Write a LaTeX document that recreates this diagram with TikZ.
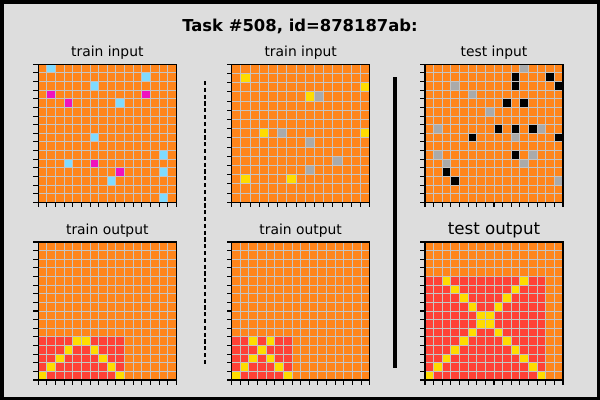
\documentclass[tikz,border=0pt]{standalone}
\usepackage{fontspec}
\setmainfont{DejaVu Sans}
\definecolor{cBg}{HTML}{DDDDDD}
\definecolor{cO}{HTML}{FF851B}
\definecolor{cB}{HTML}{7FDBFF}
\definecolor{cM}{HTML}{F012BE}
\definecolor{cY}{HTML}{FFDC00}
\definecolor{cG}{HTML}{AAAAAA}
\definecolor{cR}{HTML}{FF4136}
\definecolor{cK}{HTML}{000000}
\definecolor{cLine}{HTML}{C4C4C4}
\tikzset{
  gridline/.style={draw=cLine, line width=0.75pt},
  spine/.style={draw=black, line width=0.85pt},
  tickmark/.style={draw=black, line width=0.8pt},
  lbl/.style={anchor=base, inner sep=0pt, font=\fontsize{10.4}{12}\selectfont},
  biglbl/.style={anchor=base, inner sep=0pt, font=\fontsize{12.5}{14}\selectfont},
  ttl/.style={anchor=base, inner sep=0pt, font=\bfseries\fontsize{12.3}{14}\selectfont},
}
\newcommand\arcgrid[4]{%
  \pgfmathsetmacro\cs{103.5/#3}%
  \pgfmathtruncatemacro\nm{#3-1}%
  \begin{scope}[shift={(#1,#2)}, x=\cs pt, y=-\cs pt]
    \fill[cO] (0,0) rectangle (#3,#3);
    #4
    \foreach \i in {1,...,\nm} {
      \draw[gridline] (\i,0) -- (\i,#3);
      \draw[gridline] (0,\i) -- (#3,\i);
    }
    \draw[spine] (0,0) rectangle (#3,#3);
    \foreach \i in {0,...,#3} {
      \draw[tickmark] (0,\i) -- ++(-3.75pt,0);
      \draw[tickmark] (\i,#3) -- ++(0,-3.75pt);
    }
  \end{scope}%
}
\newcommand\cells[1]{\foreach \r/\c/\k in {#1} {\fill[\k] (\c,\r) rectangle ++(1,1);}}
\begin{document}
\begin{tikzpicture}[x=0.75pt, y=-0.75pt]
  \useasboundingbox (0,0) rectangle (600,400);
  \fill[black] (0,0) rectangle (600,400);
  \fill[cBg] (3.7,3.5) rectangle (596.5,396.5);
  % title
  \node[ttl] (title) at (300,31.7) {Task \#508, id=878187ab:};
  % labels
  \node[lbl] (l1) at (107.3,56.5) {train input};
  \node[lbl] (l2) at (300.7,56.5) {train input};
  \node[lbl] (l3) at (494,56.5) {test input};
  \node[lbl] (l4) at (107.3,234) {train output};
  \node[lbl] (l5) at (300.7,234) {train output};
  \node[biglbl] (l6) at (494,234.5) {test output};
  % grids
  \arcgrid{38.3}{64.3}{16}{\cells{0/1/cB,1/12/cB,2/6/cB,3/1/cM,3/12/cM,4/3/cM,4/9/cB,8/6/cB,10/14/cB,11/3/cB,11/6/cM,12/9/cM,12/14/cB,13/8/cB,15/14/cB}}
  \arcgrid{231.7}{64.3}{15}{\cells{1/1/cY,2/14/cY,3/8/cY,3/9/cG,7/3/cY,7/5/cG,7/14/cY,8/8/cG,10/11/cG,11/8/cG,12/1/cY,12/6/cY}}
  \arcgrid{425}{64.3}{16}{\cells{1/10/cK,1/14/cK,2/10/cK,2/15/cK,4/9/cK,4/11/cK,7/8/cK,7/10/cK,7/12/cK,8/5/cK,8/15/cK,10/10/cK,12/2/cK,13/3/cK,0/11/cG,2/3/cG,3/5/cG,5/7/cG,7/1/cG,7/13/cG,8/10/cG,10/1/cG,10/12/cG,11/2/cG,11/11/cG,13/15/cG}}
  \arcgrid{38.3}{242}{16}{\fill[cR] (0,11) rectangle (10,16);
    \cells{15/0/cY,14/1/cY,13/2/cY,12/3/cY,11/4/cY,11/5/cY,12/6/cY,13/7/cY,14/8/cY,15/9/cY}}
  \arcgrid{231.7}{242}{16}{\fill[cR] (0,11) rectangle (7,16);
    \cells{15/0/cY,14/1/cY,13/2/cY,12/3/cY,11/4/cY,11/2/cY,13/4/cY,14/5/cY,15/6/cY}}
  \arcgrid{425}{242}{16}{\fill[cR] (0,4) rectangle (14,16);
    \foreach \k in {0,...,11} {\pgfmathtruncatemacro\rr{15-\k}\pgfmathtruncatemacro\cc{13-\k}
      \fill[cY] (\k,\rr) rectangle ++(1,1);
      \fill[cY] (\cc,\rr) rectangle ++(1,1);}}
  % separators
  \coordinate (d1) at (205,81);
  \coordinate (d2) at (205,366);
  \coordinate (s1) at (395,77);
  \coordinate (s2) at (395,368);
  \draw[line width=1.1pt, dash pattern=on 3.2pt off 1.9pt] (d1) -- (d2);
  \draw[line width=2.8pt] (s1) -- (s2);
\end{tikzpicture}
\end{document}
